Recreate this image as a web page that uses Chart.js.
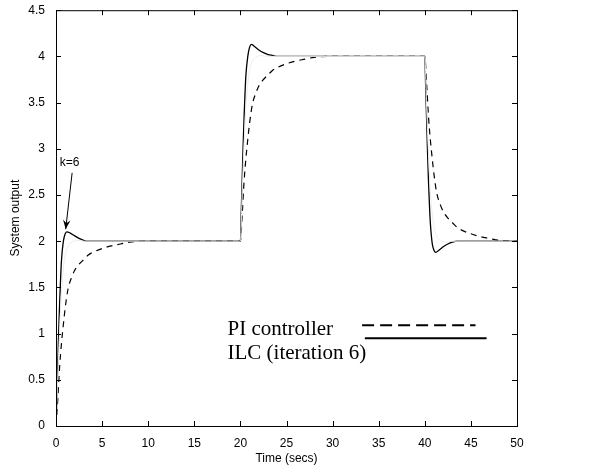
<!DOCTYPE html>
<html>
<head>
<meta charset="utf-8">
<script src="https://cdn.jsdelivr.net/npm/chart.js@4.4.1/dist/chart.umd.min.js"></script>
<style>
  body { margin: 0; background: #fff; }
  #wrap { width: 596px; height: 466px; }
</style>
</head>
<body>
<div id="wrap"><canvas id="chart" width="596" height="466"></canvas></div>
<script>
// PI controller response (dashed)
const timePI = [0, 0.2, 0.4, 0.6, 0.8, 1.0, 1.3, 1.7, 2.0, 2.5, 3.0, 3.5, 4.0, 5.0, 6.0, 7.0, 8.0, 10.0,
    20.0, 20.2, 20.4, 20.6, 20.8, 21.0, 21.3, 21.7, 22.0, 22.5, 23.0, 23.5, 24.0, 25.0, 26.0, 27.0, 28.0, 30.0,
    40.0, 40.2, 40.4, 40.6, 40.8, 41.0, 41.3, 41.7, 42.0, 42.5, 43.0, 43.5, 44.0, 45.0, 46.0, 47.0, 48.0, 50.0];
const outputPI = [0, 0.30, 0.65, 0.90, 1.10, 1.28, 1.48, 1.61, 1.68, 1.75, 1.80, 1.85, 1.88, 1.92, 1.95, 1.97, 1.99, 2.0,
    2.0, 2.30, 2.65, 2.90, 3.10, 3.28, 3.48, 3.61, 3.68, 3.75, 3.80, 3.85, 3.88, 3.92, 3.95, 3.97, 3.99, 4.0,
    4.0, 3.70, 3.35, 3.10, 2.90, 2.72, 2.52, 2.39, 2.32, 2.25, 2.20, 2.15, 2.12, 2.08, 2.05, 2.03, 2.01, 2.0];

// ILC, iteration 6 (solid)
const timeILC = [0, 0.1, 0.2, 0.3, 0.4, 0.5, 0.6, 0.8, 1.0, 1.2, 1.5, 2.0, 2.5, 3.0, 3.5, 4.0,
    20.0, 20.1, 20.2, 20.3, 20.4, 20.5, 20.6, 20.8, 21.0, 21.2, 21.5, 22.0, 22.5, 23.0, 23.5, 24.0,
    40.0, 40.1, 40.2, 40.3, 40.4, 40.5, 40.6, 40.8, 41.0, 41.2, 41.5, 42.0, 42.5, 43.0, 43.5, 44.0, 50.0];
const outputILC = [0, 0.35, 0.70, 1.05, 1.35, 1.60, 1.80, 2.00, 2.08, 2.10, 2.09, 2.06, 2.03, 2.01, 2.00, 2.00,
    2.00, 2.35, 2.70, 3.05, 3.35, 3.60, 3.80, 4.00, 4.10, 4.13, 4.11, 4.07, 4.04, 4.02, 4.01, 4.00,
    4.00, 3.65, 3.30, 2.95, 2.65, 2.40, 2.20, 1.98, 1.90, 1.88, 1.90, 1.94, 1.97, 1.99, 2.00, 2.00, 2.00];

// an earlier ILC iteration (faint grey)
const timeIter = [0, 0.2, 0.4, 0.6, 0.8, 1.0, 1.3, 1.7, 2.2, 3.0,
    20.0, 20.2, 20.4, 20.6, 20.8, 21.0, 21.3, 21.7, 22.2, 23.0,
    40.0, 40.2, 40.4, 40.6, 40.8, 41.0, 41.3, 41.7, 42.2, 43.0, 50.0];
const outputIter = [0, 0.55, 1.05, 1.45, 1.70, 1.85, 1.95, 1.99, 2.01, 2.0,
    2.0, 2.55, 3.05, 3.45, 3.70, 3.85, 3.95, 3.99, 4.01, 4.0,
    4.0, 3.45, 2.95, 2.55, 2.30, 2.15, 2.05, 2.01, 1.99, 2.0, 2.0];

const xTicks = [0, 5, 10, 15, 20, 25, 30, 35, 40, 45, 50];
const yTicks = [0, 0.5, 1, 1.5, 2, 2.5, 3, 3.5, 4, 4.5];
const legendLabels = ['PI controller', 'ILC (iteration 6)'];
const annotationText = 'k=6';

function toPoints(xs, ys) {
    return xs.map((x, i) => ({ x: x, y: ys[i] }));
}

const sans = "'Liberation Sans', Arial, sans-serif";
const serif = "'Liberation Serif', 'Times New Roman', serif";

// box, inward ticks, annotation and hand-drawn legend
const decorPlugin = {
    id: 'decor',
    afterDatasetsDraw(chart) {
        const { ctx, chartArea: a, scales: { x, y } } = chart;
        ctx.save();
        ctx.strokeStyle = '#000';
        ctx.lineWidth = 1;
        ctx.strokeRect(a.left + 0.5, a.top + 0.5, a.right - a.left, a.bottom - a.top);

        const len = 5;
        ctx.beginPath();
        xTicks.forEach(t => {
            const px = Math.round(x.getPixelForValue(t)) + 0.5;
            ctx.moveTo(px, a.bottom); ctx.lineTo(px, a.bottom - len);
            ctx.moveTo(px, a.top); ctx.lineTo(px, a.top + len);
        });
        yTicks.forEach(v => {
            const py = Math.round(y.getPixelForValue(v)) + 0.5;
            ctx.moveTo(a.left, py); ctx.lineTo(a.left + len, py);
            ctx.moveTo(a.right, py); ctx.lineTo(a.right - len, py);
        });
        ctx.stroke();

        // k=6 annotation with arrow
        ctx.fillStyle = '#000';
        ctx.font = '12px ' + sans;
        ctx.textAlign = 'left';
        ctx.textBaseline = 'middle';
        ctx.fillText(annotationText, x.getPixelForValue(0.4), y.getPixelForValue(2.85));
        const x0 = x.getPixelForValue(1.75), y0 = y.getPixelForValue(2.74);
        const x1 = x.getPixelForValue(1.05), y1 = y.getPixelForValue(2.13);
        const ang = Math.atan2(y1 - y0, x1 - x0);
        ctx.beginPath();
        ctx.moveTo(x0, y0); ctx.lineTo(x1, y1);
        ctx.stroke();
        ctx.beginPath();
        ctx.moveTo(x1, y1);
        ctx.lineTo(x1 - 10 * Math.cos(ang - 0.38), y1 - 10 * Math.sin(ang - 0.38));
        ctx.lineTo(x1 - 6 * Math.cos(ang), y1 - 6 * Math.sin(ang));
        ctx.lineTo(x1 - 10 * Math.cos(ang + 0.38), y1 - 10 * Math.sin(ang + 0.38));
        ctx.closePath();
        ctx.fill();

        // legend
        ctx.font = '21px ' + serif;
        ctx.textBaseline = 'alphabetic';
        ctx.fillText(legendLabels[0], x.getPixelForValue(18.6), y.getPixelForValue(0.99));
        ctx.fillText(legendLabels[1], x.getPixelForValue(18.6), y.getPixelForValue(0.73));
        ctx.lineWidth = 2;
        ctx.setLineDash([12, 6]);
        ctx.beginPath();
        ctx.moveTo(x.getPixelForValue(33.2), y.getPixelForValue(1.09));
        ctx.lineTo(x.getPixelForValue(45.5), y.getPixelForValue(1.09));
        ctx.stroke();
        ctx.setLineDash([]);
        ctx.beginPath();
        ctx.moveTo(x.getPixelForValue(33.5), y.getPixelForValue(0.95));
        ctx.lineTo(x.getPixelForValue(46.7), y.getPixelForValue(0.95));
        ctx.stroke();
        ctx.restore();
    }
};

new Chart(document.getElementById('chart'), {
    type: 'line',
    data: {
        datasets: [
            {
                data: toPoints(timeIter, outputIter),
                borderColor: '#ececec',
                borderWidth: 1,
                pointRadius: 0,
                cubicInterpolationMode: 'monotone'
            },
            {
                data: toPoints(timePI, outputPI),
                borderColor: '#000',
                borderWidth: 1.2,
                borderDash: [6, 5],
                pointRadius: 0,
                cubicInterpolationMode: 'monotone'
            },
            {
                data: toPoints(timeILC, outputILC),
                borderColor: '#000',
                borderWidth: 1.3,
                pointRadius: 0,
                cubicInterpolationMode: 'monotone'
            }
        ]
    },
    options: {
        responsive: false,
        animation: false,
        layout: { padding: { top: 5, right: 79, left: 0, bottom: 0 } },
        plugins: { legend: { display: false }, tooltip: { enabled: false } },
        scales: {
            x: {
                type: 'linear',
                min: 0, max: 50,
                afterBuildTicks: s => { s.ticks = xTicks.map(v => ({ value: v })); },
                afterFit: s => { s.height = 40; },
                grid: { display: false },
                border: { display: true, color: '#000' },
                ticks: { color: '#000', font: { family: sans, size: 12 }, padding: 2, maxRotation: 0,
                    callback: v => String(v) },
                title: { display: true, text: 'Time (secs)', color: '#000', font: { family: sans, size: 12 }, padding: 0 }
            },
            y: {
                min: 0, max: 4.5,
                afterBuildTicks: s => { s.ticks = yTicks.map(v => ({ value: v })); },
                afterFit: s => { s.width = 56; },
                grid: { display: false },
                border: { display: true, color: '#000' },
                ticks: { color: '#000', font: { family: sans, size: 12 }, padding: 3,
                    callback: v => String(v) },
                title: { display: true, text: 'System output', color: '#000', font: { family: sans, size: 12 }, padding: 8 }
            }
        }
    },
    plugins: [decorPlugin]
});
</script>
</body>
</html>
